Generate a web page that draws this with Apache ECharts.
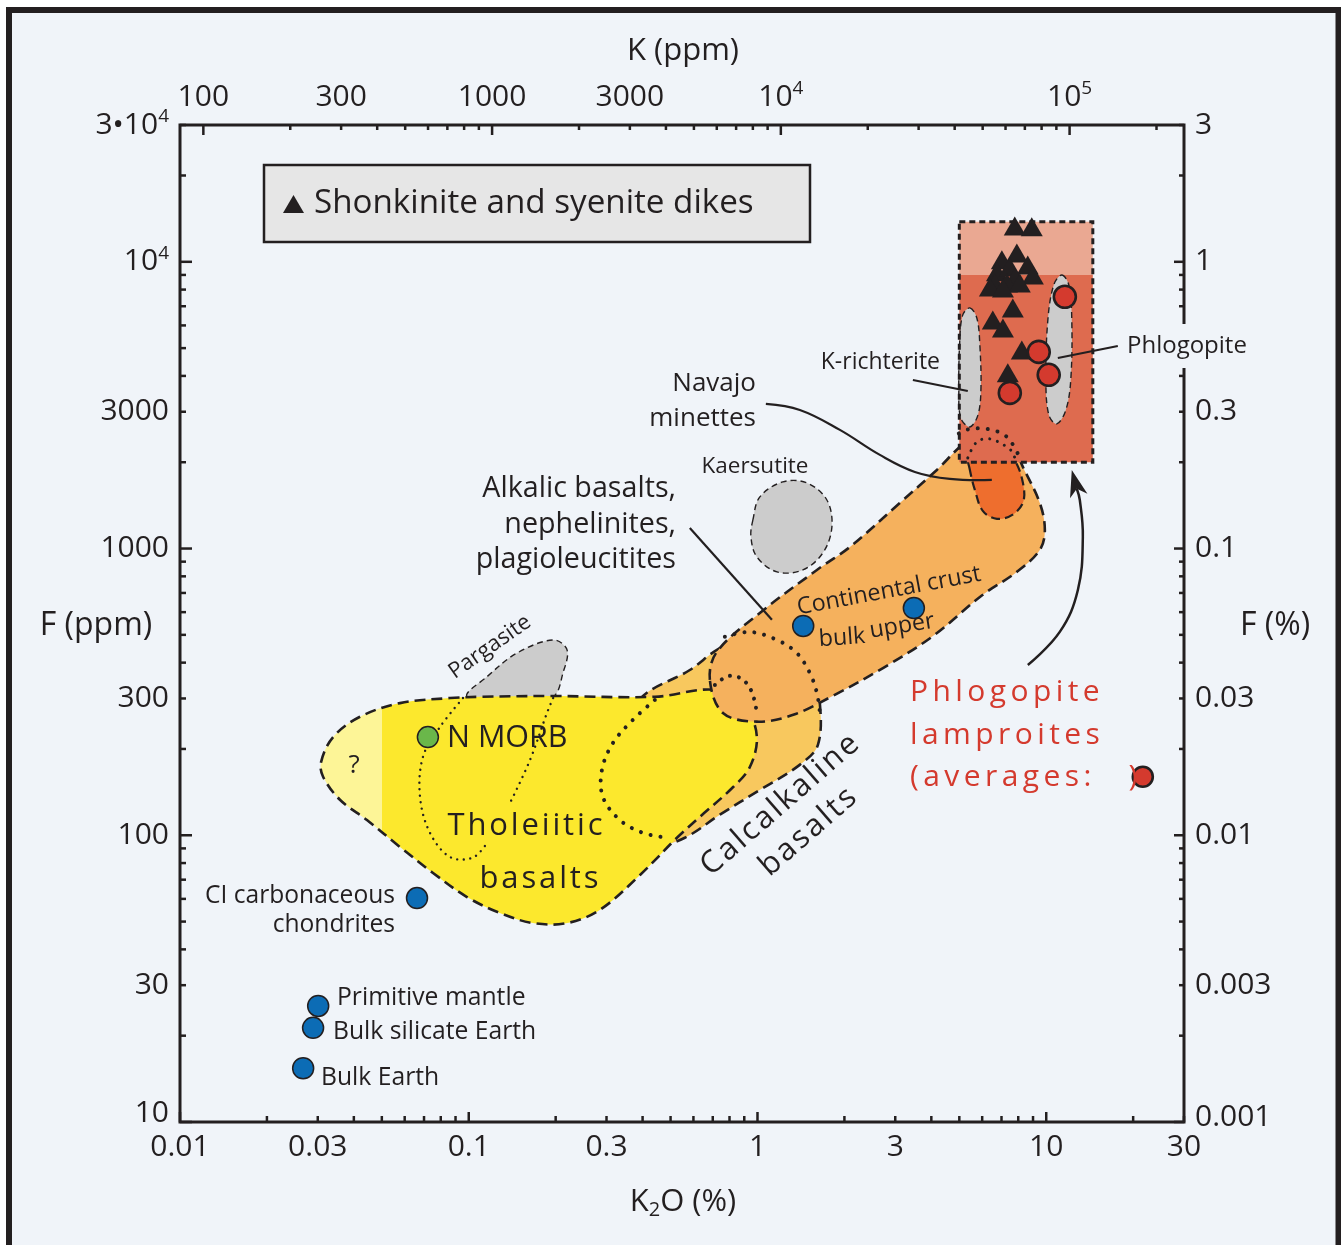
<!DOCTYPE html>
<html>
<head>
<meta charset="utf-8">
<title>F vs K2O</title>
<script src="https://cdn.jsdelivr.net/npm/echarts@6.0.0/dist/echarts.min.js"></script>
<style>
html,body{margin:0;padding:0;background:#ffffff;}
#chart{width:1341px;height:1245px;}
</style>
</head>
<body>
<div id="chart"></div>
<script>
// ===== Axis ranges and tick labels =====
const xRange = [0.01, 30];            // K2O (%)
const yRange = [10, 30000];           // F (ppm)
const bottomTickLabels = [0.01, 0.03, 0.1, 0.3, 1, 3, 10, 30];
const leftTickLabels = [10, 30, 100, 300, 1000, 3000, 10000, 30000];
const topTickLabels = [100, 300, 1000, 3000, 10000, 100000];        // K (ppm)
const rightTickLabels = [0.001, 0.003, 0.01, 0.03, 0.1, 0.3, 1, 3];   // F (%)
const K_PPM_PER_K2O_PCT = 8301;
const F_PPM_PER_PCT = 10000;

// ===== Point data =====
const shonkiniteK2O = [7.78, 8.91, 7.91, 7.02, 8.63, 6.75, 7.48, 7.78, 6.64, 7.31, 8.99, 8.10, 6.38, 7.08, 7.66, 6.53, 7.08, 8.23, 7.36];
const shonkiniteF   = [13340, 13240, 10740, 10160, 9750, 9230, 9600, 8790, 8440, 8440, 9000, 8440, 8170, 8110, 6900, 6270, 5880, 4930, 4100];
const phlogopiteK2O = [11.6, 9.42, 10.2, 7.48];
const phlogopiteF   = [7550, 4850, 4035, 3490];
const referenceNames = ['CI carbonaceous chondrites', 'Primitive mantle', 'Bulk silicate Earth', 'Bulk Earth', 'Continental crust bulk', 'Continental crust upper'];
const referenceK2O = [0.0662, 0.0301, 0.0289, 0.0267, 1.44, 3.48];
const referenceF   = [60.4, 25.4, 21.3, 15.4, 537, 620];
const nMorbK2O = [0.0722];
const nMorbF   = [220];
const lamproiteAverageK2O = [21.6];
const lamproiteAverageF   = [160];

// ===== Field outlines [K2O %, F ppm] =====
const pargasiteOutline = [[0.0986,304],[0.1156,357],[0.147,432],[0.196,480],[0.219,443],[0.212,368],[0.196,304],[0.139,273]];
const calcAlkalineOutline = [[0.39,297],[0.583,377],[0.741,450],[1.10,541],[1.52,443],[1.64,297],[1.62,207],[1.40,176],[1.02,144],[0.741,118],[0.56,98],[0.478,95],[0.424,133],[0.362,215]];
const tholeiiticOutline = [[0.0308,180],[0.0339,220],[0.042,259],[0.0578,289],[0.0861,301],[0.1094,304],[0.191,306],[0.441,304],[0.723,321],[0.919,273],[0.995,220],[0.941,173],[0.822,147],[0.632,116],[0.526,98],[0.392,72.7],[0.285,55],[0.219,49.4],[0.167,49.4],[0.128,53.6],[0.0986,60.9],[0.0752,73.9],[0.0578,91],[0.0444,113],[0.0358,133],[0.0313,160]];
const tholeiiticKnownFromK2O = 0.05;
const alkalicOutline = [[0.684,348],[0.723,436],[1.019,596],[1.606,842],[2.09,1013],[3.11,1442],[4.18,1880],[5.23,2335],[6.38,2551],[7.48,2392],[8.30,1926],[9.50,1442],[9.89,1161],[9.50,989],[7.91,829],[6.03,690],[4.05,495],[2.72,383],[1.82,306],[1.33,263],[0.995,249],[0.759,267]];
const kaersutiteOutline = [[0.964,1258],[1.019,1514],[1.224,1708],[1.483,1694],[1.739,1477],[1.81,1189],[1.685,966],[1.436,842],[1.168,829],[0.995,935],[0.949,1098]];
const navajoOutline = [[5.44,1880],[5.35,2121],[5.75,2354],[6.38,2431],[7.19,2298],[7.78,2037],[8.23,1763],[8.36,1477],[7.72,1320],[6.75,1269],[6.03,1353],[5.66,1601]];
const lamproiteBoxK2O = [5.0, 14.5];
const lamproiteBoxF = [2000, 13800];
const lamproiteBoxSplitF = 9000;
const kRichteriteOutline = [[5.44,6905],[5.75,6370],[5.89,5130],[5.94,3575],[5.80,2920],[5.44,2655],[5.06,2850],[4.98,3575],[5.02,5340],[5.14,6530]];
const phlogopiteOutline = [[11.32,9000],[11.97,8310],[12.26,6270],[12.16,3870],[11.69,3040],[10.88,2720],[10.21,2920],[9.97,3870],[10.13,6270],[10.62,8310]];

// ===== Dotted boundaries =====
const alkalicDotted = [[0.771,492],[0.941,512],[1.168,480],[1.369,432],[1.518,368],[1.606,314],[1.644,269]];
const tholeiiticDottedEnd = [[0.712,334],[0.790,359],[0.883,351],[0.956,316],[0.995,267]];
const calcAlkalineDotted = [[0.441,296.5],[0.370,252.5],[0.3157,209.8],[0.2892,169],[0.2915,136],[0.3338,113],[0.401,102],[0.4857,98]];
const nMorbDottedLeft = [[0.0955,301],[0.0795,238.6],[0.0694,187.6],[0.0678,136],[0.0734,102],[0.0861,84],[0.1034,83.6],[0.1156,94]];
const nMorbDottedRight = [[0.196,301],[0.1866,267],[0.163,183],[0.139,129.7]];
const alkalicDottedInBox = [[4.98,2520],[5.23,2593],[6.23,2614],[7.31,2451],[8.10,2070]];
const navajoDottedInBox = [[5.35,2070],[5.75,2354],[6.38,2412],[7.31,2262],[7.66,2155],[7.85,2005]];

// ===== Leader lines =====
const alkalicLeader = [[0.583,1180],[1.122,564]];
const navajoLeader = [[1.069,3194],[1.402,3044],[1.929,2593],[2.654,2121],[3.508,1850],[4.637,1749],[6.48,1735]];
const kRichteriteLeader = [[3.453,3873],[5.35,3546]];
const phlogopiteLeader = [[10.97,4620],[17.7,5090]];
const lamproiteArrow = [[8.635,392.6],[11.14,512],[12.87,717],[13.39,1098],[13.07,1477],[12.26,1880]];

// ===== Styles =====
const C = {
  bg:'#f0f4f9', ink:'#231f20', yellow:'#fce82d', paleYellow:'#fdf597', calc:'#f8c85e',
  orange:'#f5b15d', navajo:'#ee6e2e', box:'#de6b4f', boxTop:'#eaa892', gray:'#cccccc',
  red:'#d43a2e', blue:'#0c6cb5', green:'#6ab74a', legend:'#e6e6e6'
};
const FONT = '"Open Sans", "Noto Sans", sans-serif';
const fnt = s => s + 'px ' + FONT;

function outlineSeries(name, outline, st) {
  return {
    type:'custom', name:name, z:st.z, clip:false, silent:true,
    data:[outline[0]],
    renderItem:function (params, api) {
      const pts = outline.map(d => api.coord(d));
      let fill = st.open ? null : (st.fill || null);
      if (st.splitK2O) {
        const xs = pts.map(p => p[0]);
        const x0 = Math.min.apply(null, xs), x1 = Math.max.apply(null, xs);
        const xsplit = api.coord([st.splitK2O, yRange[0]])[0];
        const t = Math.max(0, Math.min(1, (xsplit - x0) / (x1 - x0)));
        fill = new echarts.graphic.LinearGradient(x0, 0, x1, 0, [
          {offset:0, color:st.fillLeft}, {offset:t, color:st.fillLeft},
          {offset:t, color:st.fill}, {offset:1, color:st.fill}], true);
      }
      return {
        type: st.open ? 'polyline' : 'polygon',
        shape:{points:pts, smooth: st.smooth == null ? 0.35 : st.smooth},
        style:{fill:fill, stroke:st.stroke || null, lineWidth:st.lw || 0,
               lineDash:st.dash || null, lineCap:st.cap || 'butt', lineJoin:'round'}
      };
    }
  };
}

function logTicks(minV, maxV) {
  const out = [];
  for (let e = Math.floor(Math.log10(minV) + 1e-9); e <= Math.ceil(Math.log10(maxV)); e++) {
    for (let m = 1; m <= 9; m++) {
      const v = m * Math.pow(10, e);
      if (v >= minV * 0.999 && v <= maxV * 1.001) out.push({v:v, major:m === 1});
    }
  }
  return out;
}

const tickRich = {
  b:{font:fnt(30), fill:C.ink, color:C.ink, lineHeight:36},
  s:{font:fnt(19), fill:C.ink, color:C.ink, lineHeight:22, verticalAlign:'top'}
};
function fmtTick(v) {
  if (v >= 10000) {
    const e = Math.floor(Math.log10(v) + 1e-9);
    const m = Math.round(v / Math.pow(10, e));
    return (m === 1 ? '{b|10}' : '{b|' + m + '•10}') + '{s|' + e + '}';
  }
  return '{b|' + String(v) + '}';
}
function tickText(x, y, v, align) {
  return {type:'text', x:x, y:y, style:{text:fmtTick(v), rich:tickRich, font:fnt(30), fill:C.ink,
    align:align, textAlign:align, verticalAlign:'middle', textVerticalAlign:'middle'}};
}

const axesSeries = {
  type:'custom', name:'axes', z:30, clip:false, silent:true, data:[[1,100]],
  renderItem:function (params, api) {
    const ch = [];
    const bl = api.coord([xRange[0], yRange[0]]), tr = api.coord([xRange[1], yRange[1]]);
    const L = bl[0], B = bl[1], R = tr[0], T = tr[1];
    ch.push({type:'rect', shape:{x:L, y:T, width:R-L, height:B-T}, style:{fill:null, stroke:C.ink, lineWidth:3}});
    const tk = (x1,y1,x2,y2) => ch.push({type:'line', shape:{x1:x1,y1:y1,x2:x2,y2:y2}, style:{stroke:C.ink, lineWidth:2.5}});
    logTicks(xRange[0], xRange[1]).forEach(t => { const x = api.coord([t.v, yRange[0]])[0]; tk(x, B, x, B - (t.major ? 10 : 6)); });
    logTicks(100, xRange[1] * K_PPM_PER_K2O_PCT).forEach(t => { const x = api.coord([t.v / K_PPM_PER_K2O_PCT, yRange[0]])[0]; tk(x, T, x, T + (t.major ? 10 : 5)); });
    logTicks(yRange[0], yRange[1]).forEach(t => { const y = api.coord([xRange[0], t.v])[1]; tk(L, y, L + (t.major ? 12 : 6), y); });
    logTicks(yRange[0] / F_PPM_PER_PCT, yRange[1] / F_PPM_PER_PCT).forEach(t => { const y = api.coord([xRange[0], t.v * F_PPM_PER_PCT])[1]; tk(R, y, R - (t.major ? 10 : 5), y); });
    bottomTickLabels.forEach(v => { const x = api.coord([v, yRange[0]])[0]; ch.push(tickText(x, B + 25, v, 'center')); });
    topTickLabels.forEach(v => { const x = api.coord([v / K_PPM_PER_K2O_PCT, yRange[0]])[0]; ch.push(tickText(x, T - 28, v, 'center')); });
    leftTickLabels.forEach((v, i) => { let y = api.coord([xRange[0], v])[1]; if (i === 0) y -= 9; ch.push(tickText(L - 11, y, v, 'right')); });
    rightTickLabels.forEach((v, i) => { let y = api.coord([xRange[0], v * F_PPM_PER_PCT])[1]; if (i === 0) y -= 5; ch.push(tickText(R + 11, y, v, 'left')); });
    return {type:'group', children:ch};
  }
};

const boxFillSeries = {
  type:'custom', name:'lamproite box', z:8, clip:false, silent:true, data:[[lamproiteBoxK2O[0], lamproiteBoxF[0]]],
  renderItem:function (params, api) {
    const a = api.coord([lamproiteBoxK2O[0], lamproiteBoxF[1]]);
    const s = api.coord([lamproiteBoxK2O[1], lamproiteBoxSplitF]);
    const b = api.coord([lamproiteBoxK2O[1], lamproiteBoxF[0]]);
    return {type:'group', children:[
      {type:'rect', shape:{x:a[0], y:a[1], width:s[0]-a[0], height:s[1]-a[1]}, style:{fill:C.boxTop}},
      {type:'rect', shape:{x:a[0], y:s[1], width:b[0]-a[0], height:b[1]-s[1]}, style:{fill:C.box}}
    ]};
  }
};
const boxLineSeries = {
  type:'custom', name:'lamproite box outline', z:10, clip:false, silent:true, data:[[lamproiteBoxK2O[0], lamproiteBoxF[0]]],
  renderItem:function (params, api) {
    const a = api.coord([lamproiteBoxK2O[0], lamproiteBoxF[1]]);
    const b = api.coord([lamproiteBoxK2O[1], lamproiteBoxF[0]]);
    return {type:'rect', shape:{x:a[0], y:a[1], width:b[0]-a[0], height:b[1]-a[1]},
      style:{fill:null, stroke:C.ink, lineWidth:3, lineDash:[6,4]}};
  }
};
const arrowSeries = {
  type:'custom', name:'arrow', z:11, clip:false, silent:true, data:[lamproiteArrow[0]],
  renderItem:function (params, api) {
    const pts = lamproiteArrow.map(d => api.coord(d));
    const tip = pts[pts.length-1], prev = pts[pts.length-2];
    let dx = tip[0]-prev[0], dy = tip[1]-prev[1];
    const len = Math.hypot(dx, dy); dx /= len; dy /= len;
    const hl = 27, hw = 9;
    const base = [tip[0]-dx*hl, tip[1]-dy*hl];
    const notch = [tip[0]-dx*hl*0.72, tip[1]-dy*hl*0.72];
    const left = [base[0]-dy*hw, base[1]+dx*hw], right = [base[0]+dy*hw, base[1]-dx*hw];
    return {type:'group', children:[
      {type:'polyline', shape:{points:pts.slice(0,-1).concat([notch]), smooth:0.4}, style:{stroke:C.ink, lineWidth:2.5, fill:null}},
      {type:'polygon', shape:{points:[tip, left, notch, right]}, style:{fill:C.ink}}
    ]};
  }
};

const DASH = [11, 6];
const series = [
  outlineSeries('pargasite', pargasiteOutline, {z:3, fill:C.gray, stroke:C.ink, lw:1.4, dash:[6,4]}),
  outlineSeries('calcalkaline', calcAlkalineOutline, {z:4, fill:C.calc, stroke:C.ink, lw:2.6, dash:DASH}),
  outlineSeries('tholeiitic', tholeiiticOutline, {z:5, fill:C.yellow, fillLeft:C.paleYellow, splitK2O:tholeiiticKnownFromK2O, stroke:C.ink, lw:2.6, dash:DASH}),
  outlineSeries('alkalic', alkalicOutline, {z:6, fill:C.orange, stroke:C.ink, lw:2.6, dash:DASH}),
  outlineSeries('kaersutite', kaersutiteOutline, {z:7, fill:C.gray, stroke:C.ink, lw:1.4, dash:[6,4]}),
  outlineSeries('navajo', navajoOutline, {z:7, fill:C.navajo, stroke:C.ink, lw:2.2, dash:[9,5]}),
  boxFillSeries,
  outlineSeries('k-richterite', kRichteriteOutline, {z:9, fill:C.gray, stroke:C.ink, lw:1.4, dash:[6,4]}),
  outlineSeries('phlogopite field', phlogopiteOutline, {z:9, fill:C.gray, stroke:C.ink, lw:1.4, dash:[6,4]}),
  boxLineSeries,
  outlineSeries('alkalic dotted', alkalicDotted, {z:10, open:true, stroke:C.ink, lw:4, dash:[0.01,10], cap:'round'}),
  outlineSeries('tholeiitic dotted end', tholeiiticDottedEnd, {z:10, open:true, stroke:C.ink, lw:4, dash:[0.01,9], cap:'round'}),
  outlineSeries('calcalkaline dotted', calcAlkalineDotted, {z:10, open:true, stroke:C.ink, lw:4, dash:[0.01,10], cap:'round'}),
  outlineSeries('nmorb dotted left', nMorbDottedLeft, {z:10, open:true, stroke:C.ink, lw:2.4, dash:[0.01,6.5], cap:'round'}),
  outlineSeries('nmorb dotted right', nMorbDottedRight, {z:10, open:true, stroke:C.ink, lw:2.4, dash:[0.01,6.5], cap:'round'}),
  outlineSeries('alkalic dotted box', alkalicDottedInBox, {z:10, open:true, stroke:C.ink, lw:4, dash:[0.01,10], cap:'round'}),
  outlineSeries('navajo dotted box', navajoDottedInBox, {z:10, open:true, stroke:C.ink, lw:3, dash:[0.01,8], cap:'round'}),
  outlineSeries('alkalic leader', alkalicLeader, {z:11, open:true, stroke:C.ink, lw:2.2, smooth:0}),
  outlineSeries('navajo leader', navajoLeader, {z:11, open:true, stroke:C.ink, lw:2.2, smooth:0.4}),
  outlineSeries('k-richterite leader', kRichteriteLeader, {z:11, open:true, stroke:C.ink, lw:2, smooth:0}),
  outlineSeries('phlogopite leader', phlogopiteLeader, {z:11, open:true, stroke:C.ink, lw:2, smooth:0}),
  arrowSeries,
  {type:'scatter', name:'Shonkinite and syenite dikes', z:20, symbol:'triangle', symbolSize:[22,19],
   itemStyle:{color:C.ink, opacity:1}, data:shonkiniteK2O.map((x,i) => [x, shonkiniteF[i]])},
  {type:'scatter', name:'Phlogopite lamproites', z:20, symbol:'circle', symbolSize:22,
   itemStyle:{color:C.red, borderColor:C.ink, borderWidth:2.6, opacity:1}, data:phlogopiteK2O.map((x,i) => [x, phlogopiteF[i]])},
  {type:'scatter', name:'Reference compositions', z:20, symbol:'circle', symbolSize:21,
   itemStyle:{color:C.blue, borderColor:C.ink, borderWidth:1.5, opacity:1}, data:referenceK2O.map((x,i) => [x, referenceF[i]])},
  {type:'scatter', name:'N MORB', z:20, symbol:'circle', symbolSize:21,
   itemStyle:{color:C.green, borderColor:C.ink, borderWidth:1.5, opacity:1}, data:nMorbK2O.map((x,i) => [x, nMorbF[i]])},
  {type:'scatter', name:'Lamproite averages', z:20, symbol:'circle', symbolSize:20,
   itemStyle:{color:C.red, borderColor:C.ink, borderWidth:2.6, opacity:1}, data:lamproiteAverageK2O.map((x,i) => [x, lamproiteAverageF[i]])},
  axesSeries
];

// ===== Text annotations =====
function txt(x, y, text, size, o) {
  o = o || {};
  const align = o.align || 'left';
  const st = {text:text, font:fnt(size), fill:o.color || C.ink, align:align, textAlign:align,
    verticalAlign:'middle', textVerticalAlign:'middle'};
  if (o.rich) st.rich = o.rich;
  if (o.bg) { st.backgroundColor = o.bg; st.padding = o.pad || [2,2]; }
  return {type:'text', x:x, y:y, z:100, rotation:o.rot || 0, silent:true, style:st};
}
function spacedRich(size, gap, color) {
  return {
    t:{font:fnt(size), fill:color, color:color, lineHeight:size * 1.3},
    g:{font:fnt(gap), fill:color, color:color, lineHeight:size * 1.3}
  };
}
const spaced = str => str.split('').map(ch => '{t|' + ch + '}').join('{g| }');
const deg = d => d * Math.PI / 180;

const richTh = spacedRich(31, 11, C.ink);
const richRed = spacedRich(30, 17, C.red);
const richCalc = spacedRich(31, 10, C.ink);
const richAxis = {
  b:{font:fnt(31), fill:C.ink, color:C.ink, lineHeight:36},
  sub:{font:fnt(20), fill:C.ink, color:C.ink, lineHeight:22, verticalAlign:'bottom'}
};

const graphics = [
  {type:'rect', z:100, silent:true, shape:{x:0, y:0, width:6, height:1245}, style:{fill:'#ffffff'}},
  {type:'rect', z:100, silent:true, shape:{x:0, y:0, width:1341, height:7}, style:{fill:'#ffffff'}},
  {type:'rect', z:100, silent:true, shape:{x:9, y:10, width:1329.5, height:1300}, style:{fill:null, stroke:C.ink, lineWidth:6}},
  // axis titles
  txt(683, 51, 'K (ppm)', 31, {align:'center'}),
  txt(683, 1202, '{b|K}{sub|2}{b|O (%)}', 31, {align:'center', rich:richAxis}),
  txt(96, 626, 'F (ppm)', 32, {align:'center'}),
  txt(1275, 626, 'F (%)', 32, {align:'center'}),
  // legend box
  {type:'rect', z:100, silent:true, shape:{x:264, y:165, width:546, height:77}, style:{fill:C.legend, stroke:C.ink, lineWidth:2.5}},
  {type:'polygon', z:101, silent:true, shape:{points:[[283,213],[304,213],[293.5,195]]}, style:{fill:C.ink}},
  txt(314, 204, 'Shonkinite and syenite dikes', 33.2),
  // field labels
  txt(756, 384, 'Navajo', 26, {align:'right'}),
  txt(756, 419, 'minettes', 26, {align:'right'}),
  txt(940, 362, 'K-richterite', 23, {align:'right'}),
  txt(1124, 346, 'Phlogopite', 24, {bg:C.bg, pad:[10,3]}),
  txt(755, 467, 'Kaersutite', 22.5, {align:'center'}),
  txt(676, 489, 'Alkalic basalts,', 28.7, {align:'right'}),
  txt(676, 525, 'nephelinites,', 28.7, {align:'right'}),
  txt(676, 560, 'plagioleucitites', 28.7, {align:'right'}),
  txt(889, 591, 'Continental crust', 23.3, {align:'center', rot:deg(10.5)}),
  txt(842, 638, 'bulk', 23.3, {align:'center', rot:deg(4)}),
  txt(902, 626, 'upper', 23.3, {align:'center', rot:deg(9)}),
  txt(490, 647, 'Pargasite', 22, {align:'center', rot:deg(35)}),
  txt(447, 738, 'N MORB', 30.5),
  txt(354, 766, '?', 26, {align:'center'}),
  txt(525, 826, spaced('Tholeiitic'), 31, {align:'center', rich:richTh}),
  txt(539, 879, spaced('basalts'), 31, {align:'center', rich:richTh}),
  txt(780, 805, spaced('Calcalkaline'), 31, {align:'center', rot:deg(41), rich:richCalc}),
  txt(808, 832, spaced('basalts'), 31, {align:'center', rot:deg(41), rich:richCalc}),
  txt(910, 692, spaced('Phlogopite'), 30, {rich:richRed}),
  txt(910, 735, spaced('lamproites'), 30, {rich:richRed}),
  txt(910, 777, spaced('(averages:'), 30, {rich:richRed}),
  txt(1133, 777, ')', 30, {align:'center', color:C.red}),
  txt(395, 896, 'CI carbonaceous', 24.6, {align:'right'}),
  txt(395, 925, 'chondrites', 24.6, {align:'right'}),
  txt(337, 998, 'Primitive mantle', 24.7),
  txt(333, 1032, 'Bulk silicate Earth', 24.7),
  txt(321, 1078, 'Bulk Earth', 24.7)
];

const chart = echarts.init(document.getElementById('chart'), null, {renderer:'canvas'});
chart.setOption({
  backgroundColor:C.bg,
  animation:false,
  grid:{left:180, top:125, width:1004, height:997, containLabel:false},
  xAxis:{type:'log', logBase:10, min:xRange[0], max:xRange[1], show:false},
  yAxis:{type:'log', logBase:10, min:yRange[0], max:yRange[1], show:false},
  tooltip:{show:false},
  series:series,
  graphic:{elements:graphics}
});
</script>
</body>
</html>
